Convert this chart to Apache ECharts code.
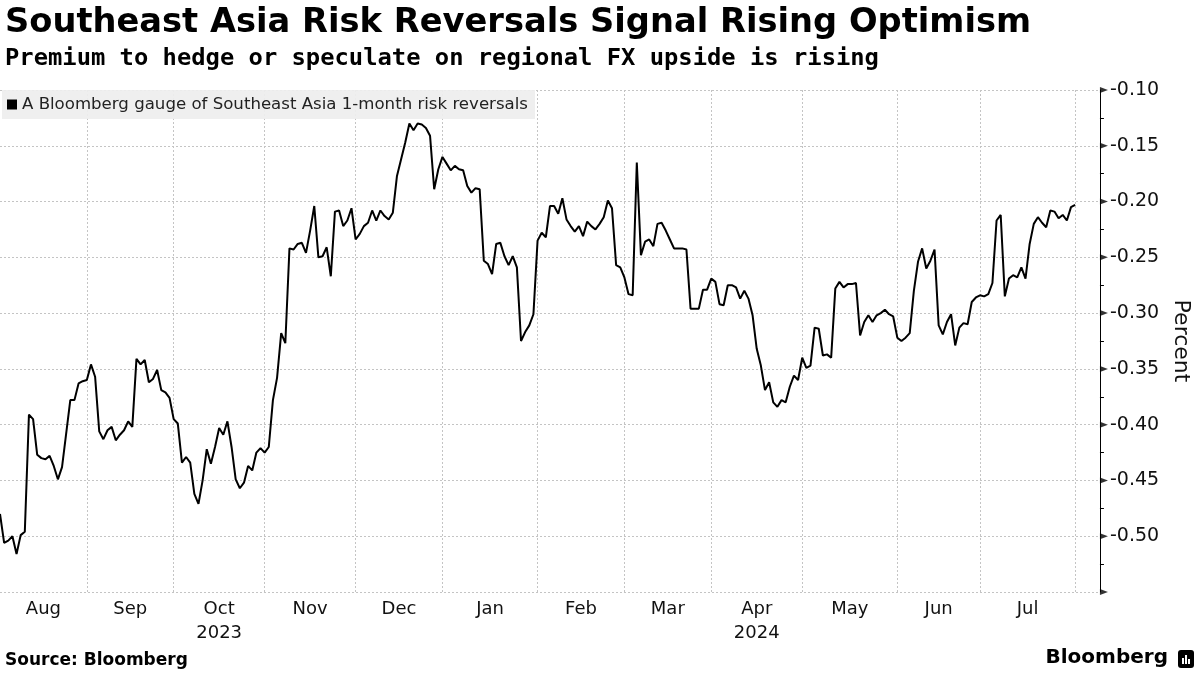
<!DOCTYPE html>
<html>
<head>
<meta charset="utf-8">
<script src="https://cdn.jsdelivr.net/npm/echarts@6/dist/echarts.min.js"></script>
<style>
html,body{margin:0;padding:0;background:#fff;}
#chart{width:1200px;height:675px;}
</style>
</head>
<body>
<div id="chart"></div>
<script>
// ---- Data ----
const seriesName = 'A Bloomberg gauge of Southeast Asia 1-month risk reversals';
const startDate = '2023-08-03'; // first business day in the series
const values = [
-0.480,-0.506,-0.504,-0.500,-0.516,-0.499,-0.496,-0.391,-0.395,-0.427,
-0.430,-0.431,-0.428,-0.437,-0.449,-0.438,-0.408,-0.378,-0.378,-0.363,
-0.361,-0.360,-0.346,-0.357,-0.406,-0.413,-0.405,-0.402,-0.414,-0.409,
-0.405,-0.397,-0.402,-0.341,-0.346,-0.342,-0.362,-0.359,-0.351,-0.369,
-0.371,-0.376,-0.395,-0.399,-0.434,-0.429,-0.434,-0.462,-0.471,-0.450,
-0.422,-0.435,-0.420,-0.403,-0.409,-0.397,-0.420,-0.449,-0.457,-0.452,
-0.437,-0.441,-0.425,-0.421,-0.425,-0.420,-0.378,-0.358,-0.318,-0.327,
-0.242,-0.243,-0.238,-0.237,-0.246,-0.226,-0.204,-0.250,-0.249,-0.241,
-0.267,-0.209,-0.208,-0.222,-0.217,-0.206,-0.234,-0.229,-0.222,-0.219,
-0.208,-0.217,-0.208,-0.213,-0.216,-0.210,-0.177,-0.162,-0.147,-0.130,
-0.136,-0.130,-0.131,-0.134,-0.141,-0.189,-0.171,-0.160,-0.166,-0.172,
-0.168,-0.171,-0.172,-0.186,-0.192,-0.188,-0.189,-0.253,-0.256,-0.265,
-0.238,-0.237,-0.249,-0.257,-0.249,-0.259,-0.325,-0.317,-0.311,-0.301,
-0.235,-0.228,-0.232,-0.204,-0.204,-0.211,-0.197,-0.216,-0.222,-0.227,
-0.222,-0.231,-0.218,-0.222,-0.225,-0.220,-0.214,-0.199,-0.206,-0.257,
-0.259,-0.268,-0.283,-0.284,-0.165,-0.248,-0.236,-0.234,-0.240,-0.220,
-0.219,-0.226,-0.234,-0.242,-0.242,-0.242,-0.243,-0.296,-0.296,-0.296,
-0.279,-0.279,-0.269,-0.272,-0.292,-0.293,-0.275,-0.275,-0.277,-0.287,
-0.280,-0.287,-0.302,-0.332,-0.347,-0.369,-0.362,-0.380,-0.384,-0.378,
-0.380,-0.366,-0.356,-0.360,-0.340,-0.349,-0.347,-0.313,-0.314,-0.338,
-0.337,-0.340,-0.278,-0.272,-0.277,-0.274,-0.274,-0.273,-0.320,-0.308,
-0.302,-0.308,-0.302,-0.300,-0.297,-0.301,-0.303,-0.322,-0.325,-0.322,
-0.318,-0.280,-0.254,-0.242,-0.260,-0.253,-0.243,-0.311,-0.319,-0.308,
-0.301,-0.329,-0.313,-0.309,-0.310,-0.290,-0.286,-0.284,-0.285,-0.283,
-0.273,-0.217,-0.212,-0.285,-0.269,-0.266,-0.268,-0.259,-0.269,-0.238,
-0.220,-0.214,-0.219,-0.223,-0.208,-0.209,-0.215,-0.212,-0.217,-0.205,
-0.203
];
const monthLabels = ['Aug','Sep','Oct\n2023','Nov','Dec','Jan','Feb','Mar','Apr\n2024','May','Jun','Jul'];
const yTicks = [-0.55,-0.50,-0.45,-0.40,-0.35,-0.30,-0.25,-0.20,-0.15,-0.10];
const yAxisName = 'Percent';
const titleText = 'Southeast Asia Risk Reversals Signal Rising Optimism';
const subtitleText = 'Premium to hedge or speculate on regional FX upside is rising';
const sourceText = 'Source: Bloomberg';

// ---- Derived: business-day dates, month boundaries ----
const dates = [];
let d = new Date(startDate + 'T00:00:00Z');
while (dates.length < values.length) {
  const wd = d.getUTCDay();
  if (wd !== 0 && wd !== 6) dates.push(d.toISOString().slice(0, 10));
  d = new Date(d.getTime() + 86400000);
}
const monthStarts = [];
for (let i = 1; i < dates.length; i++) {
  if (dates[i].slice(0, 7) !== dates[i - 1].slice(0, 7)) monthStarts.push(i);
}
const bounds = [0].concat(monthStarts);
const labelPos = bounds.slice(0, -1).map((b, k) => (b + bounds[k + 1]) / 2);
const xMax = values.length - 1 + 6;

const lineData = values.map((v, i) => [i, v]);
const arrowData = yTicks.map(v => [xMax, v]);

const chart = echarts.init(document.getElementById('chart'), null, {renderer: 'canvas'});
const gridDash = {color: '#c4c4c4', width: 1, type: [2, 2]};

chart.setOption({
  animation: false,
  backgroundColor: '#ffffff',
  textStyle: {fontFamily: 'DejaVu Sans'},
  grid: {left: 0, right: 97, top: 90, bottom: 83},
  legend: {
    show: true,
    data: [seriesName],
    left: 2, top: 90,
    padding: [6, 7, 6, 5],
    backgroundColor: 'rgba(238,238,238,0.92)',
    icon: 'rect',
    itemWidth: 10, itemHeight: 10,
    selectedMode: false,
    textStyle: {fontFamily: 'DejaVu Sans', fontSize: 16.6, color: '#222'}
  },
  xAxis: {
    type: 'value',
    min: 0, max: xMax,
    axisLine: {show: false},
    axisTick: {show: false, customValues: monthStarts},
    splitLine: {show: true, lineStyle: gridDash},
    axisLabel: {
      customValues: labelPos,
      formatter: (v) => monthLabels[labelPos.indexOf(v)] || '',
      fontFamily: 'DejaVu Sans', fontSize: 18, color: '#111',
      lineHeight: 24, margin: 5
    }
  },
  yAxis: {
    type: 'value',
    position: 'right',
    min: -0.55, max: -0.10, interval: 0.05,
    axisLine: {show: true, onZero: false, lineStyle: {color: '#000', width: 1}},
    axisTick: {show: false},
    minorTick: {show: true, splitNumber: 2, length: 4, lineStyle: {color: '#000', width: 1}},
    splitLine: {show: true, lineStyle: gridDash},
    axisLabel: {
      formatter: v => (v < -0.549 ? '' : v.toFixed(2)),
      fontFamily: 'DejaVu Sans', fontSize: 19, color: '#111', margin: 10
    },
    name: yAxisName,
    nameLocation: 'middle',
    nameRotate: -90,
    nameGap: 70,
    nameTextStyle: {fontFamily: 'DejaVu Sans', fontSize: 22, color: '#111'}
  },
  series: [
    {
      name: seriesName,
      type: 'line',
      data: lineData,
      showSymbol: false,
      symbol: 'none',
      color: '#000',
      lineStyle: {color: '#000', width: 2},
      z: 5
    },
    {
      name: 'ticks',
      type: 'scatter',
      data: arrowData,
      symbol: 'path://M0,0L8,4L0,8Z',
      symbolSize: [8, 6],
      symbolOffset: [4, 0],
      itemStyle: {color: '#000'},
      silent: true,
      clip: false,
      z: 6
    }
  ],
  graphic: [
    {type: 'text', left: 5, top: 6, style: {text: titleText, font: 'bold 33.7px "DejaVu Sans"', fill: '#000'}},
    {type: 'text', left: 5, top: 47, style: {text: subtitleText, font: 'bold 23.8px "DejaVu Sans Mono"', fill: '#000'}},
    {type: 'text', left: 5, top: 652, style: {text: sourceText, font: 'bold 17px "DejaVu Sans"', fill: '#000'}},
    {type: 'text', right: 32, top: 648, style: {text: 'Bloomberg', font: 'bold 20px "DejaVu Sans"', fill: '#000'}},
    {type: 'group', right: 6, top: 650, children: [
      {type: 'rect', shape: {x: 0, y: 0, width: 16, height: 18, r: 3}, style: {fill: '#000'}},
      {type: 'rect', shape: {x: 4, y: 8, width: 2, height: 6}, style: {fill: '#fff'}},
      {type: 'rect', shape: {x: 7, y: 5, width: 2, height: 9}, style: {fill: '#fff'}},
      {type: 'rect', shape: {x: 10, y: 9, width: 2, height: 5}, style: {fill: '#fff'}}
    ]}
  ]
});
</script>
</body>
</html>
